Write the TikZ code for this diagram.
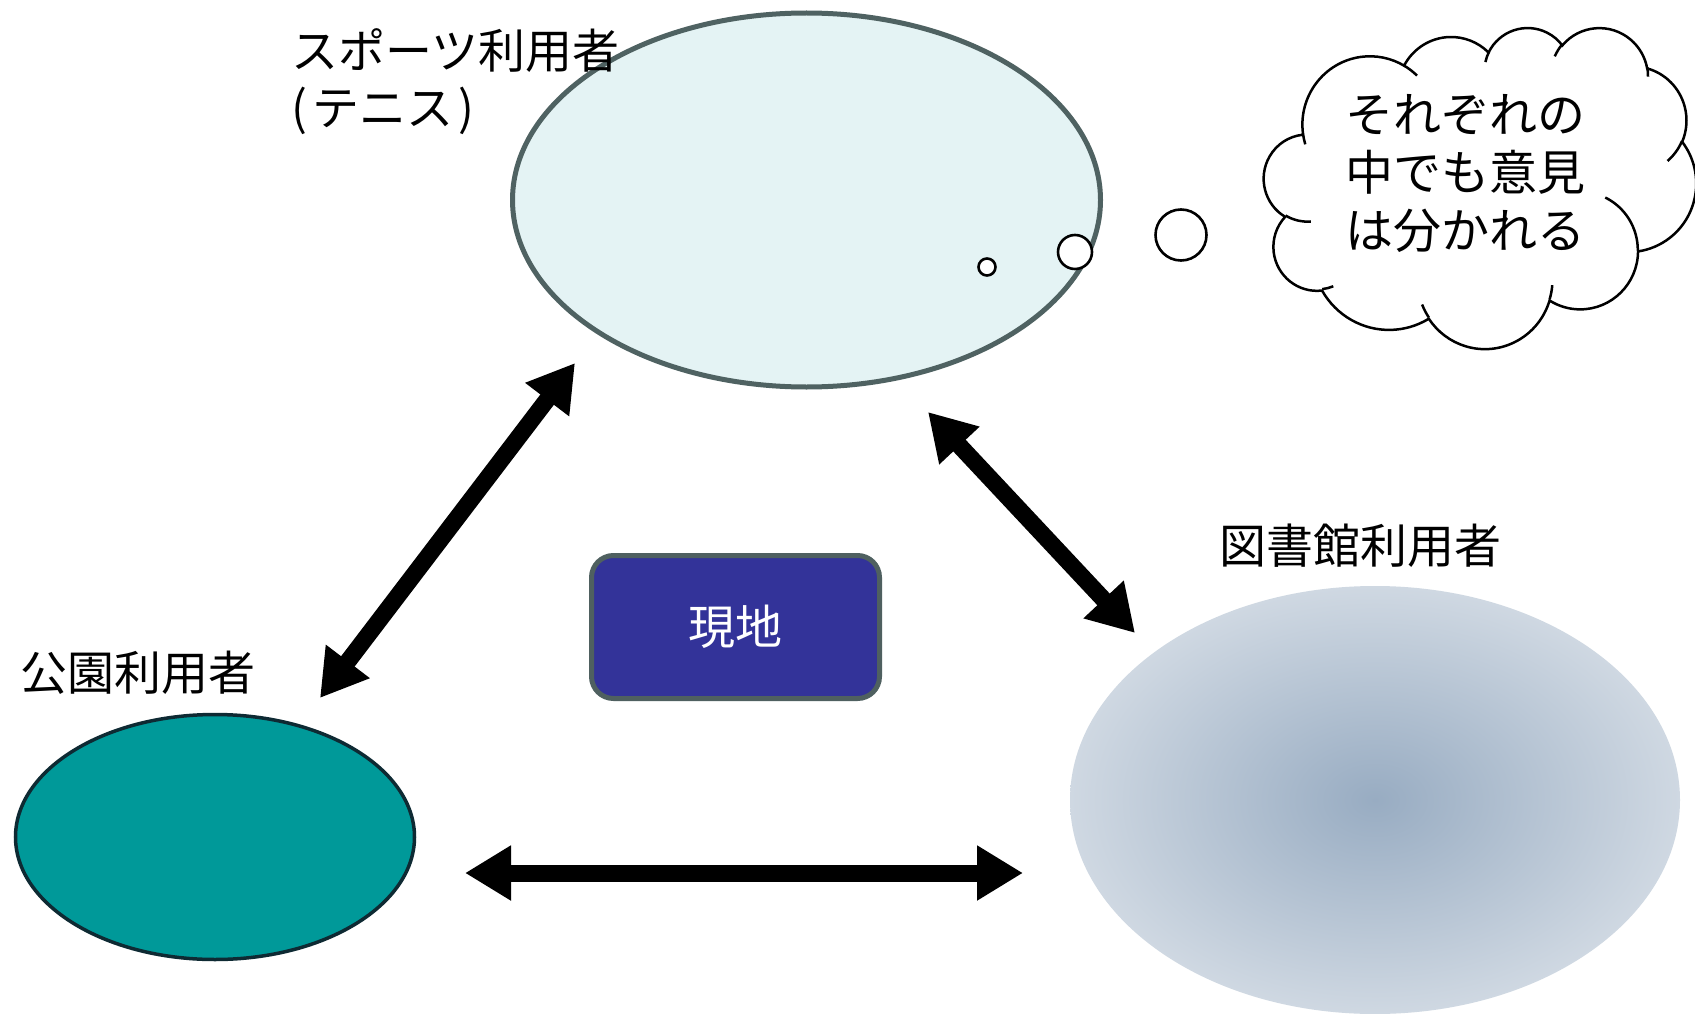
\documentclass[tikz,border=0pt]{standalone}
\usepackage{fontspec}
\setmainfont{Noto Sans CJK JP}
\usetikzlibrary{arrows.meta,shapes.geometric}

\definecolor{sportfill}{HTML}{E4F3F4}
\definecolor{sportline}{HTML}{4F6262}
\definecolor{parkfill}{HTML}{009999}
\definecolor{parkline}{HTML}{0E2A33}
\definecolor{boxfill}{HTML}{333399}
\definecolor{boxline}{HTML}{4F6060}
\definecolor{libin}{HTML}{98ACC2}
\definecolor{libout}{HTML}{CFD8E2}

\pgfdeclareradialshading{libshade}{\pgfpoint{0bp}{0bp}}{color(0bp)=(libin); color(25bp)=(libout); color(50bp)=(libout)}

\newcommand\cloudarc[4]{%
  \pgfmathsetmacro\cloudtS{atan2((#1)*sin(#3),(#2)*cos(#3))}%
  \pgfmathsetmacro\cloudtE{atan2((#1)*sin((#3)+(#4)),(#2)*cos((#3)+(#4)))}%
  \pgfmathsetmacro\cloudtD{mod(\cloudtE-(\cloudtS)+720,360)}%
  \xdef\cloudpath{\cloudpath arc[start angle=\cloudtS, delta angle=\cloudtD, x radius=#1, y radius=#2]}%
}
\newcommand\hookarc[6]{%
  \pgfmathsetmacro\cloudtS{atan2((#3)*sin(#5),(#4)*cos(#5))}%
  \pgfmathsetmacro\cloudtE{atan2((#3)*sin((#5)+(#6)),(#4)*cos((#5)+(#6)))}%
  \pgfmathsetmacro\cloudtD{mod(\cloudtE-(\cloudtS)+720,360)}%
  \xdef\hookpath{\hookpath (#1,#2) arc[start angle=\cloudtS, delta angle=\cloudtD, x radius=#3, y radius=#4]}%
}

\begin{document}
\begin{tikzpicture}[x=1pt,y=1pt,yscale=-1,
  lbl/.style={inner sep=0pt, font=\fontsize{47}{57}\selectfont, align=left},
  biarrow/.style={line width=17pt, {Triangle[length=46pt,width=52pt]}-{Triangle[length=46pt,width=52pt]}},
  bubble/.style={circle, draw=black, fill=white, line width=2.6pt, inner sep=0pt},
  cloudline/.style={line width=2.5pt, draw=black}
  ]
\useasboundingbox (0,0) rectangle (1695,1014);
\fill[white] (0,0) rectangle (1695,1014);

% ellipses
\node[ellipse, draw=sportline, fill=sportfill, line width=5pt, minimum width=588, minimum height=374, inner sep=0pt] (sport) at (806.5,200) {};
\node[ellipse, draw=parkline, fill=parkfill, line width=3.5pt, minimum width=399, minimum height=245, inner sep=0pt] (park) at (215,837) {};
\node[ellipse, shade, shading=libshade, minimum width=610, minimum height=428, inner sep=0pt] (lib) at (1375,800) {};

% central box
\node[draw=boxline, fill=boxfill, line width=5pt, rounded corners=22pt, minimum width=288, minimum height=143, text=white, font=\fontsize{47}{56}\selectfont, inner sep=0pt] (site) at (735.5,627) {現地};

% labels
\node[lbl, anchor=north west] (sportlbl) at (291,28) {スポーツ利用者\\(\kern5pt テニス\kern5pt)};
\node[lbl, anchor=north west] (parklbl) at (20,651) {公園利用者};
\node[lbl, anchor=north west] (liblbl) at (1219,524) {図書館利用者};

% arrows
\coordinate (a1) at (320,698);
\coordinate (a2) at (575,363);
\coordinate (b1) at (928,412);
\coordinate (b2) at (1135,633);
\coordinate (c1) at (465,873);
\coordinate (c2) at (1023,873);
\draw[biarrow] (a1) -- (a2);
\draw[biarrow] (b1) -- (b2);
\draw[biarrow] (c1) -- (c2);

% cloud
\gdef\cloudpath{}
\gdef\hookpath{}
\cloudarc{67.53}{91.90}{-190.4875}{123.7805}
\cloudarc{53.33}{72.67}{-144.1024}{89.9452}
\cloudarc{43.65}{59.45}{-145.8079}{99.7230}
\cloudarc{48.57}{65.95}{-130.9861}{117.2417}
\cloudarc{53.33}{72.73}{-78.7089}{109.0269}
\cloudarc{67.75}{92.20}{-46.2673}{130.2690}
\cloudarc{57.85}{78.67}{0.6250}{114.0333}
\cloudarc{67.52}{92.15}{22.4516}{115.1726}
\cloudarc{77.20}{105.43}{66.2426}{75.7110}
\cloudarc{43.60}{59.18}{-274.9421}{146.7356}
\cloudarc{43.45}{59.45}{-246.8285}{152.5189}
\hookarc{46.93}{261.77}{43.45}{59.45}{86.742}{26.4295}
\hookarc{69.28}{348.99}{43.60}{59.18}{73.6105}{11.4475}
\hookarc{164.78}{390.90}{67.52}{92.15}{137.6242}{14.0811}
\hookarc{288.27}{347.51}{67.52}{92.15}{6.4533}{15.9984}
\hookarc{341.29}{229.54}{57.85}{78.67}{-70.2924}{70.9174}
\hookarc{417.98}{153.54}{53.33}{72.73}{30.3180}{27.7515}
\hookarc{383.24}{54.26}{48.57}{65.95}{-13.7443}{14.8589}
\hookarc{290.78}{39.52}{48.57}{65.95}{-149.1815}{18.1954}
\hookarc{221.41}{47.20}{43.65}{59.45}{-163.4943}{17.6864}
\hookarc{140.00}{51.92}{67.53}{91.90}{-66.7070}{12.3194}
\hookarc{41.27}{157.89}{67.53}{91.90}{157.6544}{11.8582}
\begin{scope}[shift={(1264,27)}, yscale=0.743]
  \draw[cloudline, fill=white] (39,143.70) \cloudpath -- cycle;
  \draw[cloudline] \hookpath;
\end{scope}
\node[font=\fontsize{48}{58}\selectfont, align=center, inner sep=0pt] (cloudtxt) at (1465,173) {それぞれの\\中でも意見\\は分かれる};

% thought bubbles
\node[bubble, minimum size=17] (t1) at (987,267) {};
\node[bubble, minimum size=34] (t2) at (1075,252) {};
\node[bubble, minimum size=51] (t3) at (1181,235) {};
\end{tikzpicture}
\end{document}
